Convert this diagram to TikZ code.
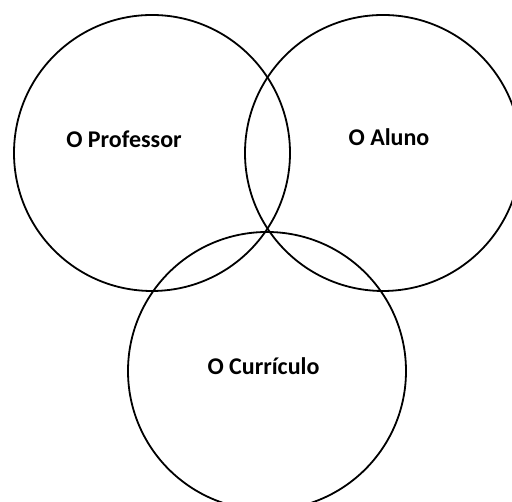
\documentclass[tikz,border=0pt]{standalone}
\usepackage{fontspec}
\setmainfont{Carlito}
\begin{document}
\begin{tikzpicture}[x=1pt,y=1pt,
  ring/.style={circle,draw=black,line width=1.8pt,inner sep=0pt},
  lbl/.style={font=\bfseries\fontsize{24}{28}\selectfont,text=black,inner sep=0pt}]
\useasboundingbox (0,0) rectangle (512,502);
\clip (0,0) rectangle (512,502);
\fill[white] (0,0) rectangle (512,502);
\node[ring,minimum size=276pt] (prof) at (152,349) {};
\node[ring,minimum size=276pt] (aluno) at (383,349) {};
\node[ring,minimum size=278pt] (curr) at (267,131) {};
\node[lbl] (tprof) at (124,363) {O Professor};
\node[lbl] (taluno) at (389,364.5) {O Aluno};
\node[lbl] (tcurr) at (263.5,136) {O Currículo};
\end{tikzpicture}
\end{document}
